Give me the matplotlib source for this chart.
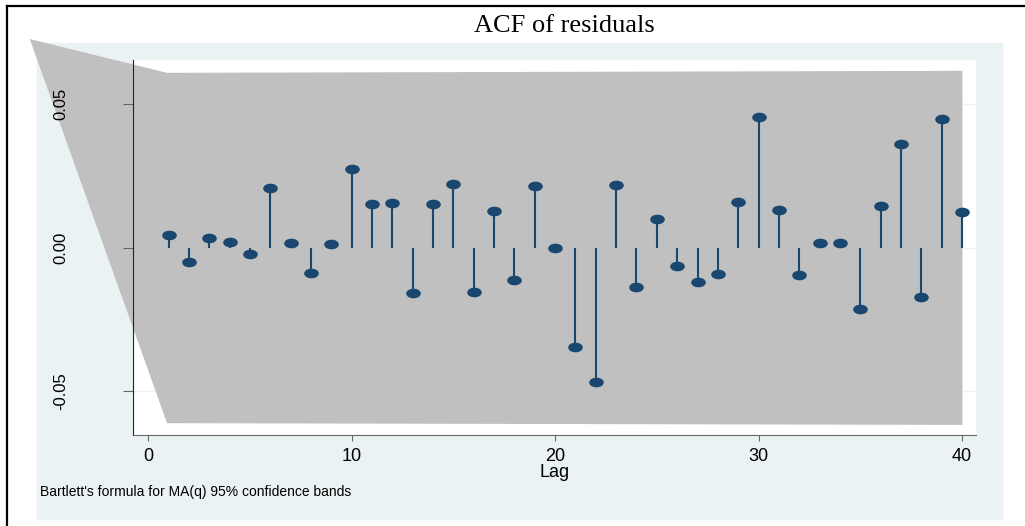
import numpy as np
import matplotlib
matplotlib.use("Agg")
import matplotlib.pyplot as plt
from matplotlib.path import Path
from matplotlib.patches import Rectangle
from matplotlib.lines import Line2D

# autocorrelations of the residuals, lags 1..40
lags = np.arange(1, 41)
acf = [0.0044, -0.0049, 0.0033, 0.0020, -0.0024, 0.0206, 0.0015, -0.0088, 0.0011, 0.0273,
       0.0151, 0.0154, -0.0158, 0.0152, 0.0223, -0.0156, 0.0126, -0.0112, 0.0213, -0.0001,
       -0.0346, -0.0468, 0.0217, -0.0138, 0.0101, -0.0066, -0.0121, -0.0094, 0.0159, 0.0455,
       0.0131, -0.0095, 0.0016, 0.0016, -0.0215, 0.0144, 0.0361, -0.0173, 0.0448, 0.0124]

# Bartlett band (as drawn, including the stray left vertex)
band_lag = [-5.85, 0.9, 40]
band_hi = [0.0729, 0.0611, 0.0618]
band_lo = [0.0729, -0.0611, -0.0617]

yticks = [-0.05, 0.0, 0.05]
ytick_labels = ["-0.05", "0.00", "0.05"]
xticks = [0, 10, 20, 30, 40]

W, H = 1025, 526
fig = plt.figure(figsize=(W / 100, H / 100), dpi=100)
fig.patch.set_facecolor("white")

# light blue graph region
fig.patches.append(Rectangle((37 / W, 1 - 519 / H), 965 / W, 476 / H,
                             transform=fig.transFigure, color="#eaf2f3", zorder=-10))
# outer black frame (top and left visible)
fig.lines.append(Line2D([7 / W, 1], [1 - 6 / H, 1 - 6 / H], transform=fig.transFigure,
                        color="black", lw=1.6))
fig.lines.append(Line2D([7 / W, 7 / W], [0, 1 - 6 / H], transform=fig.transFigure,
                        color="black", lw=1.6))

ax = fig.add_axes([133 / W, 1 - 435 / H, (976 - 133) / W, (435 - 60) / H])
ax.set_facecolor("white")
ax.set_xlim(-0.75, 40.69)
ax.set_ylim(-0.0654, 0.0654)

for t in yticks:
    ax.axhline(t, color="#eaf2f3", lw=1, zorder=0.5)

band = ax.fill_between(band_lag, band_lo, band_hi, color="#c0c0c0", lw=0, zorder=1)
band.set_clip_on(False)

navy = "#1a476f"
ax.vlines(lags, 0, acf, color=navy, lw=1.5, zorder=2)
circ = Path.unit_circle()
ellipse = Path(circ.vertices * np.array([1.6, 1.0]), circ.codes)
ax.plot(lags, acf, ls="none", marker=ellipse, ms=9.5, color=navy, zorder=3)

for s in ["top", "right"]:
    ax.spines[s].set_visible(False)
ax.spines["left"].set_color("#222222")
ax.spines["bottom"].set_color("#666666")

ax.set_yticks(yticks)
ax.set_yticklabels(ytick_labels, family="Liberation Sans", fontsize=12)
ax.tick_params(axis="y", length=7.2, width=0.8, color="#666666", pad=39.6, labelrotation=90)
for lab in ax.get_yticklabels():
    lab.set_verticalalignment("center")

ax.set_xticks(xticks)
ax.set_xticklabels([str(x) for x in xticks], family="Liberation Sans", fontsize=13)
ax.tick_params(axis="x", length=4.3, width=0.8, color="#666666", pad=5)
ax.set_xlabel("Lag", family="Liberation Sans", fontsize=13, labelpad=-1)

fig.text(564.5 / W, 1 - 32 / H, "ACF of residuals", ha="center", va="baseline",
         family="Liberation Serif", fontsize=19)
fig.text(40 / W, 1 - 496 / H, "Bartlett's formula for MA(q) 95% confidence bands",
         ha="left", va="baseline", family="Liberation Sans", fontsize=10)

fig.savefig("out.png", dpi=100)
